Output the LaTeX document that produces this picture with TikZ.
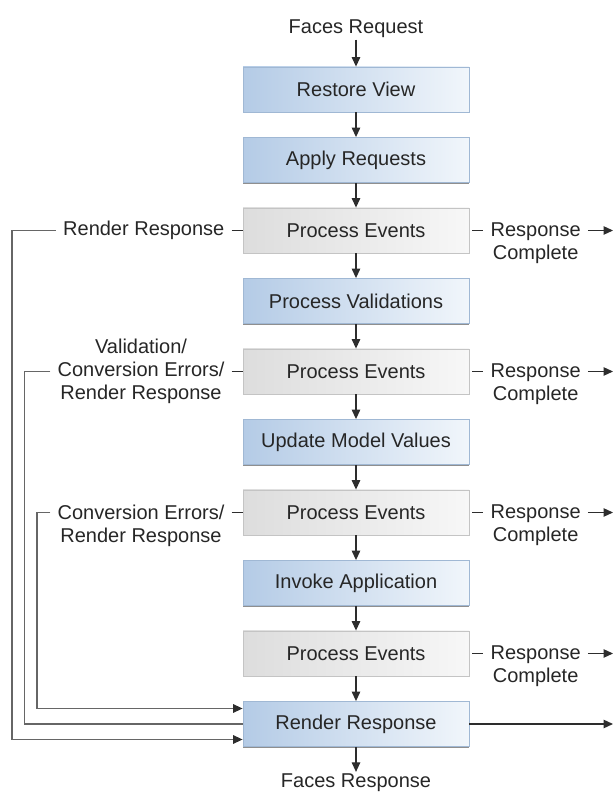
\documentclass[tikz,border=0pt]{standalone}
\usepackage{fontspec}
\setmainfont{Liberation Sans}
\usetikzlibrary{positioning,arrows.meta,shadows}

\definecolor{phaseL}{RGB}{180,203,230}
\definecolor{phaseR}{RGB}{241,246,251}
\definecolor{phaseEdge}{RGB}{160,184,212}
\definecolor{eventL}{RGB}{221,221,221}
\definecolor{eventR}{RGB}{247,247,247}
\definecolor{eventEdge}{RGB}{196,196,196}
\definecolor{wire}{RGB}{45,45,45}

\tikzset{
  phase/.style={draw=phaseEdge, line width=0.8pt, left color=phaseL, right color=phaseR,
    minimum width=226pt, minimum height=45pt, inner sep=0pt,
    drop shadow={shadow xshift=0.4pt, shadow yshift=-1.3pt, fill=black!55, opacity=0.8}},
  events/.style={phase, draw=eventEdge, left color=eventL, right color=eventR},
  note/.style={align=center, inner xsep=7pt, inner ysep=2pt},
  tip/.style={-{Triangle[length=9.5pt,width=8.5pt,color=wire]}},
  flow/.style={tip, line width=1.2pt, draw=wire},
  tie/.style={line width=1.2pt, draw=wire},
  back/.style={line width=1.4pt, draw=black!60},
}

\begin{document}
\begin{tikzpicture}[x=1pt, y=1pt, node distance=24.7pt and 11pt,
  every node/.style={font=\fontsize{20pt}{23pt}\selectfont, text=black!85}]
\useasboundingbox (0,0) rectangle (615,792);

% phases down the middle
\node[phase] (restore) at (356,702.5) {Restore View};
\node[phase, below=of restore] (apply) {Apply Requests};
\node[events, below=of apply] (ev1) {Process Events};
\node[phase, below=of ev1] (valid) {Process Validations};
\node[events, below=of valid] (ev2) {Process Events};
\node[phase, below=of ev2] (update) {Update Model Values};
\node[events, below=of update] (ev3) {Process Events};
\node[phase, below=of ev3] (invoke) {Invoke Application};
\node[events, below=of invoke] (ev4) {Process Events};
\node[phase, below=of ev4] (render) {Render Response};

\node[note, above=27pt of restore] (req) {Faces Request};
\node[note, below=25pt of render] (resp) {Faces Response};

% rails on the left, exit on the right
\coordinate (railA) at (12,0);
\coordinate (railB) at (24.5,0);
\coordinate (railC) at (37,0);
\coordinate (exit) at (613,0);

\draw[flow] (req) -- (restore);
\draw[flow] (restore) -- (apply);
\draw[flow] (apply) -- (ev1);
\draw[flow] (ev1) -- (valid);
\draw[flow] (valid) -- (ev2);
\draw[flow] (ev2) -- (update);
\draw[flow] (update) -- (ev3);
\draw[flow] (ev3) -- (invoke);
\draw[flow] (invoke) -- (ev4);
\draw[flow] (ev4) -- (render);
\draw[flow] (render) -- (resp);
\draw[flow] (render.east) -- (render.east -| exit);

% response complete after each event step
\foreach \ev in {ev1,ev2,ev3,ev4} {
  \node[note, right=14pt of \ev, yshift=-13pt] (\ev done) {Response\\Complete};
  \draw[tie] ([xshift=3pt]\ev.east) -- (\ev done.west |- \ev.east);
  \draw[flow] (\ev done.east |- \ev.east) -- (\ev.east -| exit);
}

% jumps back to render response
\node[note, left=of ev1] (skip1) {Render Response};
\node[note, left=of ev2] (skip2) {Validation/\\Conversion Errors/\\Render Response};
\node[note, left=of ev3, yshift=-13pt] (skip3) {Conversion Errors/\\Render Response};

\draw[tie] (skip1.east |- ev1.west) -- (ev1.west);
\draw[tie] (skip2.east |- ev2.west) -- (ev2.west);
\draw[tie] (skip3.east |- ev3.west) -- (ev3.west);

\draw[back, tip] (skip1.west |- ev1.west) -- (railA |- ev1.west)
  |- ([yshift=-15.5pt]render.west);
\draw[back] (skip2.west |- ev2.west) -- (railB |- ev2.west) |- (render.west);
\draw[back, tip] (skip3.west |- ev3.west) -- (railC |- ev3.west)
  |- ([yshift=15.5pt]render.west);
\end{tikzpicture}
\end{document}
